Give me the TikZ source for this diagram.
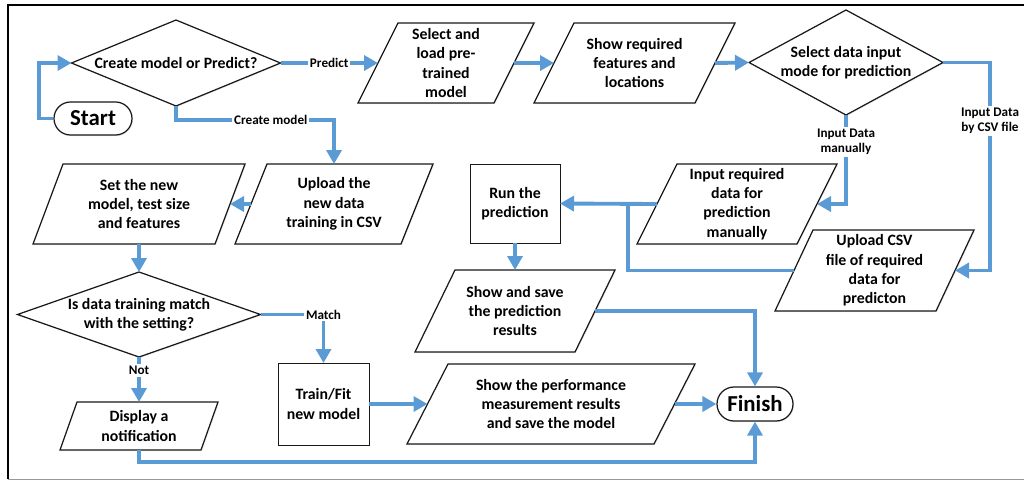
\documentclass[tikz,border=0pt]{standalone}
\usepackage{fontspec}
\setmainfont{Carlito}
\usetikzlibrary{arrows.meta,calc,shadows}
\definecolor{flowblue}{RGB}{91,155,213}
\pgfdeclarelayer{background}
\pgfsetlayers{background,main}

\tikzset{
  txt/.style={font=\bfseries\fontsize{9}{11}\selectfont, align=center,
    inner sep=0pt, outer sep=0pt},
  slot/.style 2 args={txt, draw=none, minimum width=#1*0.02cm, minimum height=#2*0.02cm},
  shp/.style={draw=black!90, line width=0.7pt, fill=white,
    drop shadow={shadow xshift=0.6pt, shadow yshift=-0.6pt, opacity=0.12, fill=black!60}},
  procbox/.style 2 args={txt, shp, line width=0.55pt, minimum width=#1*0.02cm, minimum height=#2*0.02cm},
  terminal/.style 2 args={shp, font=\bfseries\fontsize{13}{15}\selectfont, inner sep=0pt,
    minimum width=#1*0.02cm, minimum height=#2*0.02cm, rounded corners=#2*0.01cm},
  flow/.style={draw=flowblue, line width=2.2pt,
    -{Triangle[length=0.28cm,width=0.3cm]}},
  link/.style={draw=flowblue, line width=2.2pt},
  lbl/.style={font=\bfseries\fontsize{7.5}{9}\selectfont, fill=white, inner sep=1pt,
    align=center, text=black},
}

% parallelogram outline around a text slot: #1 node, #2 half of the slant
\newcommand\paraoutline[2]{\path[shp] ($(#1.north west)+(#2,0)$) -- ($(#1.north east)+(#2,0)$)
  -- ($(#1.south east)-(#2,0)$) -- ($(#1.south west)-(#2,0)$) -- cycle;}
% decision outline through the four compass points of a text slot
\newcommand\rhombline[1]{\path[shp] (#1.west) -- (#1.north) -- (#1.east) -- (#1.south) -- cycle;}

\begin{document}
\begin{tikzpicture}[x=0.02cm, y=-0.02cm]
\useasboundingbox (0,0) rectangle (1024,481);

% frame
\draw[black, line width=1pt] (8,479) -- (8,5) -- (1024,5);
\draw[black!40, line width=1pt] (8,479.5) -- (1024,479.5);

% terminals
\node[terminal={78}{33}] (start) at (93,118.5) {Start};
\node[terminal={76}{34}] (finish) at (755,404) {Finish};

% decisions
\node[slot={209}{86}] (d1) at (176,63) {Create model or Predict?};
\node[slot={194}{105}] (d2) at (846,62.5) {Select data input\\mode for prediction};
\node[slot={243}{85}] (d3) at (139,314.5) {Is data training match\\with the setting?};

% input/output steps
\node[slot={136}{80}] (p1) at (446,63) {Select and\\load pre-\\trained\\model};
\node[slot={161}{80}] (p2) at (634.5,63) {Show required\\features and\\locations};
\node[slot={160}{80}] (pin) at (737,204) {Input required\\data for\\prediction\\manually};
\node[slot={161}{81}] (csv) at (874.5,270.5) {Upload CSV\\file of required\\data for\\predicton};
\node[slot={160}{82}] (sap) at (515,311) {Show and save\\the prediction\\results};
\node[slot={247}{80}] (perf) at (551,404) {Show the performance\\measurement results\\and save the model};
\node[slot={166}{80}] (upl) at (334,204) {Upload the\\new data\\training in CSV};
\node[slot={182}{80}] (set) at (139,204) {Set the new\\model, test size\\and features};
\node[slot={141}{48}] (disp) at (139,426) {Display a\\notification};

% processes
\node[procbox={90}{79}] (run) at (515,203.5) {Run the\\prediction};
\node[procbox={91}{82}] (train) at (323.5,404) {Train/Fit\\new model};

\begin{pgfonlayer}{background}
  \rhombline{d1} \rhombline{d2} \rhombline{d3}
  \paraoutline{p1}{20} \paraoutline{p2}{20} \paraoutline{pin}{20}
  \paraoutline{csv}{19} \paraoutline{sap}{20} \paraoutline{perf}{20.5}
  \paraoutline{upl}{16} \paraoutline{set}{15} \paraoutline{disp}{8.5}
\end{pgfonlayer}

% connectors
\draw[flow] (start.west) -- ++(-14,0) |- (d1.west);
\draw[flow] (d1.east) -- node[lbl]{Predict} (p1.west);
\draw[flow] (p1.east) -- (p2.west);
\draw[flow] (p2.east) -- (d2.west);
\draw[flow] (d2.south) |- node[lbl, pos=0.15]{Input Data\\manually} (pin.east);
\draw[flow] (d2.east) -- ++(47,0) |- node[lbl, pos=0.14]{Input Data\\by CSV file} (csv.east);
\draw[flow] (pin.west) -- (run.east);
\coordinate (join) at ($(run.east)!0.7!(pin.west)$);
\draw[link] (csv.west) -| (join);
\draw[flow] (run.south) -- (sap.north);
\draw[flow] (sap.east) -| (finish.north);
\draw[flow] (perf.east) -- (finish.west);
\draw[flow] (d1.south) -- ++(0,14) -| node[lbl, pos=0.3]{Create model} (upl.north);
\draw[flow] (upl.west) -- (set.east);
\draw[flow] (set.south) -- (d3.north);
\draw[flow] (d3.east) -| node[lbl, pos=0.5]{Match} (train.north);
\draw[flow] (d3.south) -- node[lbl, pos=0.3]{Not} (disp.north);
\draw[flow] (train.east) -- (perf.west);
\draw[flow] (disp.south) -- ++(0,12) -| (finish.south);
\end{tikzpicture}
\end{document}
